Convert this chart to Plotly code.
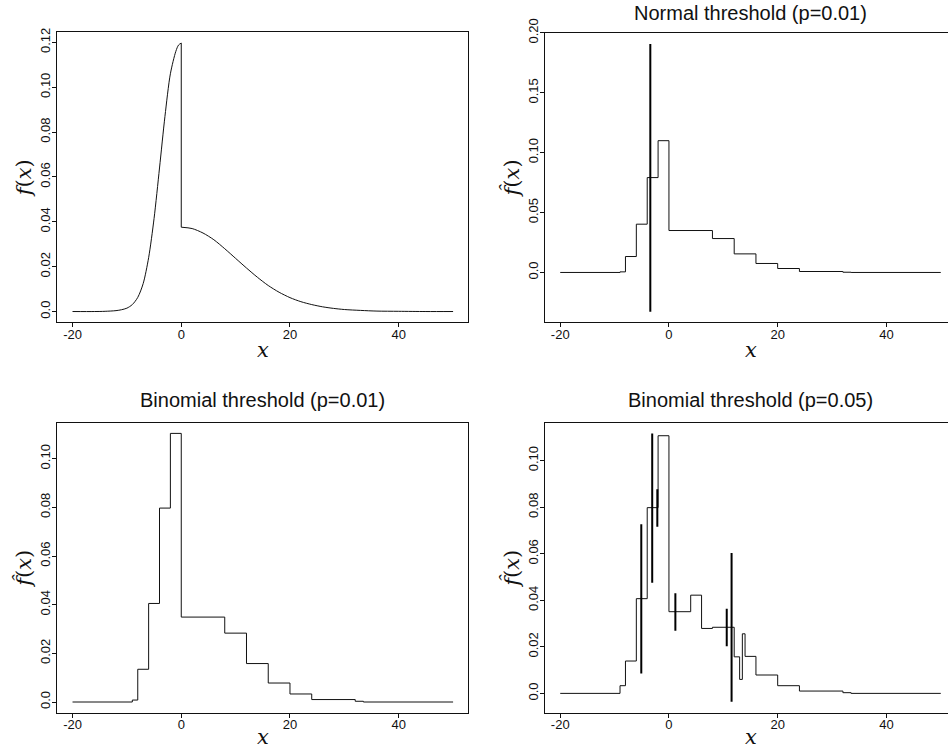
import plotly.graph_objects as go

W, H = 948, 751

# ---------------- data ----------------
# True density f(x): left (normal-like) branch up to the jump at 0, then the right tail
dens_left_x = [-20, -16, -14, -12, -11, -10, -9, -8, -7, -6, -5, -4, -3, -2, -1, -0.5, 0]
dens_left_y = [0.0, 0.0, 0.0001, 0.0004, 0.0008, 0.0015, 0.0031, 0.0063, 0.0125, 0.0240,
               0.0415, 0.0640, 0.0870, 0.1060, 0.1160, 0.1188, 0.1197]
dens_right_x = [0, 2, 4, 6, 8, 10, 12, 14, 16, 18, 20, 22, 24, 26, 28, 30, 33, 36, 40, 45, 50]
dens_right_y = [0.0376, 0.0370, 0.0350, 0.0320, 0.0280, 0.0237, 0.0194, 0.0153, 0.0116, 0.0086,
                0.0062, 0.0044, 0.0031, 0.0021, 0.0014, 0.0009, 0.0005, 0.0002, 0.0001, 0.0, 0.0]

# Normal threshold (p=0.01): histogram breaks / heights and the spike
normal_breaks = [-20, -9, -8, -6, -4, -2, 0, 8, 12, 16, 20, 24, 32, 33.5, 50]
normal_heights = [0.0, 0.0005, 0.0133, 0.0403, 0.0792, 0.1100, 0.0350, 0.0283,
                  0.0155, 0.0075, 0.0033, 0.0008, 0.0002, 0.0]
normal_spike_x = [-3.43]
normal_spike_lo = [-0.0327]
normal_spike_hi = [0.1908]

# Binomial threshold (p=0.01)
binom01_breaks = [-20, -9, -8, -6, -4, -2, 0, 8, 12, 16, 20, 24, 32, 33.5, 50]
binom01_heights = [0.0, 0.0008, 0.01345, 0.0405, 0.0797, 0.1104, 0.0349, 0.0283,
                   0.0158, 0.0078, 0.0033, 0.0010, 0.0003, 0.0]

# Binomial threshold (p=0.05)
binom05_breaks = [-20, -9, -8, -6, -4, -2, 0, 4, 6, 8, 12, 13, 13.5, 14, 16, 20, 24, 32, 33.5, 50]
binom05_heights = [0.0, 0.0033, 0.0139, 0.0407, 0.0798, 0.1107, 0.0351, 0.0422, 0.0279,
                   0.0284, 0.0157, 0.0060, 0.0256, 0.0159, 0.0079, 0.0033, 0.0010, 0.0003, 0.0]
binom05_spike_x = [-5.09, -3.08, -2.14, 1.18, 10.63, 11.52]
binom05_spike_lo = [0.0085, 0.0475, 0.0716, 0.0269, 0.0203, -0.0036]
binom05_spike_hi = [0.0727, 0.1117, 0.0877, 0.0430, 0.0364, 0.0603]

x_ticks = [-20, 0, 20, 40]
x_ticktext = ["-20", "0", "20", "40"]
y_ticks_tl = [0, 0.02, 0.04, 0.06, 0.08, 0.10, 0.12]
y_ticktext_tl = ["0.0", "0.02", "0.04", "0.06", "0.08", "0.10", "0.12"]
y_ticks_tr = [0, 0.05, 0.10, 0.15, 0.20]
y_ticktext_tr = ["0.0", "0.05", "0.10", "0.15", "0.20"]
y_ticks_b = [0, 0.02, 0.04, 0.06, 0.08, 0.10]
y_ticktext_b = ["0.0", "0.02", "0.04", "0.06", "0.08", "0.10"]

titles = ["Normal threshold (p=0.01)", "Binomial threshold (p=0.01)", "Binomial threshold (p=0.05)"]

# ---------------- layout geometry (pixels) ----------------
# panel boxes: (left, right, top, bottom)
boxes = {
    1: (57.3, 468.3, 32.3, 322.3),
    2: (545.0, 948.0, 32.5, 322.3),
    3: (57.3, 468.3, 422.7, 712.7),
    4: (545.0, 948.0, 422.7, 712.7),
}
PANEL_W = 411.0
PX_PER_UNIT = PANEL_W / 75.6
xr_left = [-22.8, 52.8]
xr_right = [-22.8, -22.8 + (948.0 - 545.0) / PX_PER_UNIT]
yranges = {
    1: [-0.0048, 0.1245],
    2: [-0.0416, 0.2003],
    3: [-0.0044, 0.1148],
    4: [-0.0083, 0.1163],
}

LINE = "#111111"
TICKFONT = dict(family="Liberation Sans, Arial, sans-serif", size=13, color="#111111")
MATHFONT = dict(family="DejaVu Serif, serif", size=21, color="#111111")
TITLEFONT = dict(family="Liberation Sans, Arial, sans-serif", size=20, color="#111111")


def steps(breaks, heights):
    return list(breaks), list(heights) + [heights[-1]]


fig = go.Figure()

# panel 1: true density
fig.add_trace(go.Scatter(x=dens_left_x, y=dens_left_y, mode="lines",
                         line=dict(color=LINE, width=1, shape="spline", smoothing=0.8),
                         xaxis="x", yaxis="y", showlegend=False, hoverinfo="skip"))
fig.add_trace(go.Scatter(x=[dens_left_x[-1], dens_right_x[0]], y=[dens_left_y[-1], dens_right_y[0]],
                         mode="lines", line=dict(color=LINE, width=1),
                         xaxis="x", yaxis="y", showlegend=False, hoverinfo="skip"))
fig.add_trace(go.Scatter(x=dens_right_x, y=dens_right_y, mode="lines",
                         line=dict(color=LINE, width=1, shape="spline", smoothing=0.8),
                         xaxis="x", yaxis="y", showlegend=False, hoverinfo="skip"))

# step estimates
for k, (br, hv) in zip([2, 3, 4], [(normal_breaks, normal_heights),
                                   (binom01_breaks, binom01_heights),
                                   (binom05_breaks, binom05_heights)]):
    sx, sy = steps(br, hv)
    fig.add_trace(go.Scatter(x=sx, y=sy, mode="lines",
                             line=dict(color=LINE, width=1, shape="hv"),
                             xaxis=f"x{k}", yaxis=f"y{k}", showlegend=False, hoverinfo="skip"))


def spikes(k, xs, lo, hi):
    px, py = [], []
    for a, b, c in zip(xs, lo, hi):
        px += [a, a, None]
        py += [b, c, None]
    fig.add_trace(go.Scatter(x=px, y=py, mode="lines", line=dict(color="#000000", width=2),
                             xaxis=f"x{k}", yaxis=f"y{k}", showlegend=False, hoverinfo="skip"))


spikes(2, normal_spike_x, normal_spike_lo, normal_spike_hi)
spikes(4, binom05_spike_x, binom05_spike_lo, binom05_spike_hi)

layout = dict(width=W, height=H, margin=dict(l=0, r=0, t=0, b=0, autoexpand=False),
              paper_bgcolor="white", plot_bgcolor="white", showlegend=False)

ytick_sets = {1: (y_ticks_tl, y_ticktext_tl), 2: (y_ticks_tr, y_ticktext_tr),
              3: (y_ticks_b, y_ticktext_b), 4: (y_ticks_b, y_ticktext_b)}

annotations = []
for k, (l, r, t, b) in boxes.items():
    xn = "xaxis" if k == 1 else f"xaxis{k}"
    yn = "yaxis" if k == 1 else f"yaxis{k}"
    xs = "x" if k == 1 else f"x{k}"
    ys = "y" if k == 1 else f"y{k}"
    right_panel = k in (2, 4)
    layout[xn] = dict(domain=[l / W, min(r / W, 1.0)], range=xr_right if right_panel else xr_left,
                      anchor=ys, showline=True, linecolor=LINE, linewidth=1, mirror=True,
                      ticks="outside", ticklen=4, tickwidth=1, tickcolor=LINE,
                      tickvals=x_ticks, ticktext=x_ticktext, tickfont=TICKFONT,
                      ticklabelstandoff=-4, automargin=False,
                      showgrid=False, zeroline=False, fixedrange=True)
    tv, tt = ytick_sets[k]
    ylab = "<i>f</i>(<i>x</i>)" if k == 1 else "<i>f\u0302</i>(<i>x</i>)"
    layout[yn] = dict(domain=[1 - b / H, 1 - t / H], range=yranges[k], anchor=xs,
                      showline=True, linecolor=LINE, linewidth=1, mirror=not right_panel,
                      ticks="outside", ticklen=4, tickwidth=1, tickcolor=LINE,
                      tickvals=tv, ticktext=tt, tickfont=TICKFONT, tickangle=-90,
                      ticklabelstandoff=-3, automargin=False,
                      title=dict(text=ylab, font=MATHFONT, standoff=0),
                      showgrid=False, zeroline=False, fixedrange=True)

    # x-axis title, centred under the full panel width
    cx = (l + l + PANEL_W) / 2
    if k in (1, 2):
        annotations.append(dict(text="<i>x</i>", x=cx / W, y=1 - (b + 28) / H,
                                xref="paper", yref="paper", showarrow=False, font=MATHFONT,
                                xanchor="center", yanchor="middle"))
    else:
        annotations.append(dict(text="<i>x</i>", x=cx / W, y=0.0,
                                xref="paper", yref="paper", showarrow=False, font=MATHFONT,
                                xanchor="center", yanchor="bottom"))

# panel titles
for k, txt in zip([2, 3, 4], titles):
    l, r, t, b = boxes[k]
    cx = (l + l + PANEL_W) / 2
    if k == 2:
        ty, yanc = 1.0, "top"
    else:
        ty, yanc = 1 - (t - 23) / H, "middle"
    annotations.append(dict(text=txt, x=cx / W, y=ty, xref="paper", yref="paper",
                            showarrow=False, xanchor="center", yanchor=yanc, font=TITLEFONT))

layout["annotations"] = annotations
fig.update_layout(**layout)
fig.write_html("out.html")
